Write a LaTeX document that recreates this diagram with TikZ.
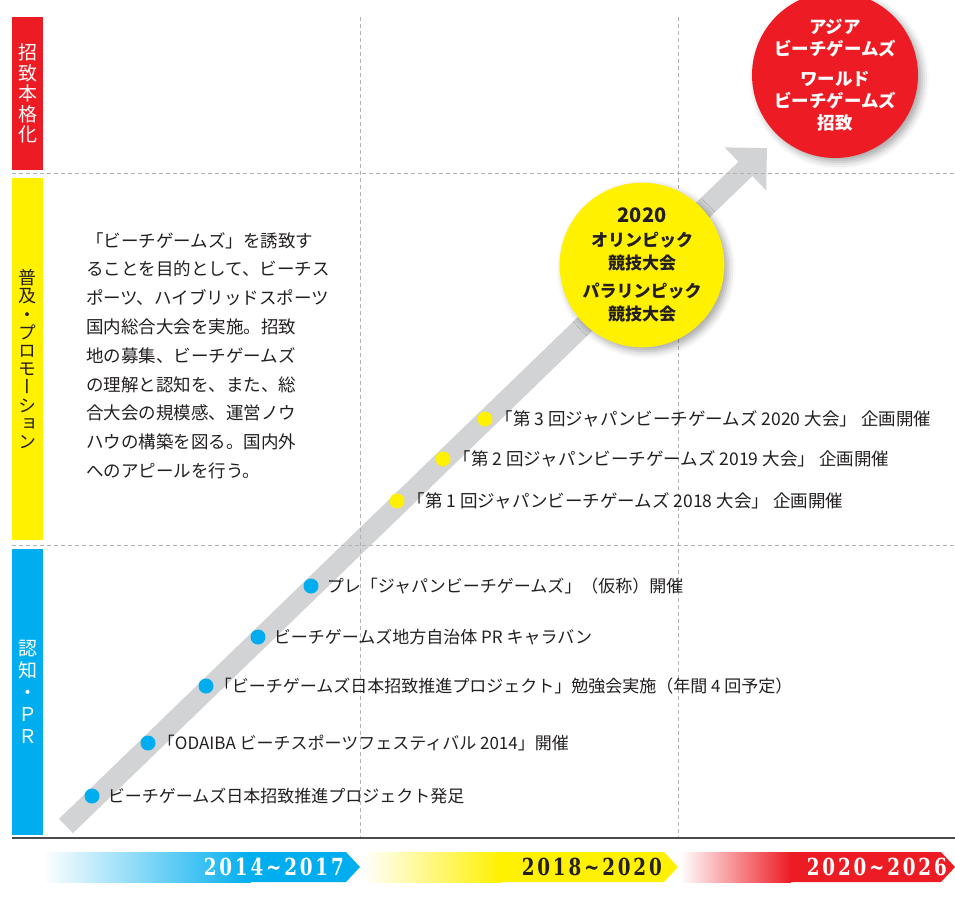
\documentclass[tikz,border=0pt]{standalone}
\usepackage{fontspec}
\setmainfont{Noto Sans CJK JP}
\newfontfamily\cjkv[RawFeature=+vert]{Noto Sans CJK JP}
\newfontfamily\yearfont[FakeStretch=0.78,LetterSpace=12]{DejaVu Serif}
\XeTeXlinebreaklocale "ja"
\XeTeXlinebreakskip=0pt plus 4pt
\usepackage{tikz}
\usetikzlibrary{calc,arrows.meta,positioning,shadows.blur}
\definecolor{jcyan}{HTML}{00AEEF}
\definecolor{jyellow}{HTML}{FFF100}
\definecolor{jred}{HTML}{ED1C24}
\definecolor{jgray}{HTML}{D1D3D4}
\definecolor{jink}{HTML}{231F20}
\newcommand\pline[1]{\hbox to 244pt{#1}}
\tikzstyle{phase bar}=[inner sep=0,minimum width=31,anchor=north west]
\tikzstyle{side label}=[inner sep=0,align=center]
\tikzstyle{grid line}=[draw=black!30,dash pattern=on 4pt off 3pt,line width=0.8]
\tikzstyle{goal circle}=[circle,inner sep=0,align=center,minimum size=166,blur shadow={shadow xshift=4pt,shadow yshift=-4pt,shadow blur radius=7pt,shadow opacity=35}]
\tikzstyle{cyan dot}=[circle,fill=jcyan,inner sep=0,minimum size=15]
\tikzstyle{yellow dot}=[circle,fill=jyellow,inner sep=0,minimum size=15]
\tikzstyle{item}=[inner sep=0,text=jink,font=\fontsize{17}{17}\selectfont]
\tikzstyle{year label}=[inner sep=0,anchor=east,font=\yearfont\bfseries\fontsize{23.5}{23.5}\selectfont]

\begin{document}
\begin{tikzpicture}[x=1pt,y=-1pt]
\useasboundingbox (0,0) rectangle (955,914);

% phase bars on the left
\node[phase bar,fill=jred,minimum height=153] (barA) at (12,17) {};
\node[phase bar,fill=jyellow,minimum height=362] (barB) at (12,178) {};
\node[phase bar,fill=jcyan,minimum height=286] (barC) at (12,549) {};
\node[side label,text=white,font=\cjkv\fontsize{19}{20.5}\selectfont] (labA) at (barA.center) {招\\致\\本\\格\\化};
\node[side label,text=jink,font=\cjkv\fontsize{18}{18.2}\selectfont] (labB) at (barB.center) {普\\及\\・\\プ\\ロ\\モ\\ー\\シ\\ョ\\ン};
\node[side label,text=white,font=\cjkv\fontsize{19}{22}\selectfont] (labC) at (barC.center) {認\\知\\・\\Ｐ\\Ｒ};

% the big arrow
\coordinate (tail) at (66,826);
\coordinate (head) at (767,148);
\draw[jgray,line width=20,-{Triangle[width=58pt,length=30pt]}] (tail) -- (head);

% grid
\draw[grid line] (12,173) -- (955,173);
\draw[grid line] (12,545) -- (955,545);
\draw[grid line] (360,17) -- (360,838);
\draw[grid line] (678,17) -- (678,838);
\draw[draw=black!70,line width=1.5] (12,838) -- (955,838);

% goals
\node[goal circle,fill=jred,text=white,font=\bfseries\fontsize{17.5}{22}\selectfont] (worldC) at (835,75)
  {アジア\\ビーチゲームズ\\[8pt]ワールド\\ビーチゲームズ\\招致};
\node[goal circle,fill=jyellow,text=jink,minimum size=162,font=\bfseries\fontsize{17}{23.5}\selectfont] (olympC) at (642,265)
  {{\fontsize{20}{23.5}\selectfont 2020}\\オリンピック\\競技大会\\[4pt]パラリンピック\\競技大会};

% description
\node[inner sep=0,anchor=north west,align=left,text=jink,font=\fontsize{17.5}{28.8}\selectfont] (desc) at (86,232)
  {\pline{「ビーチゲームズ」を誘致す}\\\pline{ることを目的として、ビーチス}\\\pline{ポーツ、ハイブリッドスポーツ}\\\pline{国内総合大会を実施。招致}\\\pline{地の募集、ビーチゲームズ}\\\pline{の理解と認知を、また、総}\\\pline{合大会の規模感、運営ノウ}\\\pline{ハウの構築を図る。国内外}\\へのアピールを行う。};

% steps 2014-2017
\node[cyan dot] (d1) at (92,796) {};
\node[cyan dot] (d2) at (148,743) {};
\node[cyan dot] (d3) at (206,686) {};
\node[cyan dot] (d4) at (258,637) {};
\node[cyan dot] (d5) at (311,586) {};
\node[item,right=8pt of d1] (e1) {ビーチゲームズ日本招致推進プロジェクト発足};
\node[item,right=2pt of d2] (e2) {「ODAIBA ビーチスポーツフェスティバル 2014」開催};
\node[item,right=1pt of d3] (e3) {「ビーチゲームズ日本招致推進プロジェクト」勉強会実施（年間 4 回予定）};
\node[item,right=8pt of d4] (e4) {ビーチゲームズ地方自治体 PR キャラバン};
\node[item,right=8pt of d5] (e5) {プレ「ジャパンビーチゲームズ」（仮称）開催};

% steps 2018-2020
\node[yellow dot] (d6) at (397,501) {};
\node[yellow dot] (d7) at (443,459) {};
\node[yellow dot] (d8) at (485,419) {};
\node[item,right=3pt of d6,font=\fontsize{17.5}{17.5}\selectfont] (e6) {「第 1 回ジャパンビーチゲームズ 2018 大会」 企画開催};
\node[item,right=3pt of d7,font=\fontsize{17.5}{17.5}\selectfont] (e7) {「第 2 回ジャパンビーチゲームズ 2019 大会」 企画開催};
\node[item,right=3pt of d8,font=\fontsize{17.5}{17.5}\selectfont] (e8) {「第 3 回ジャパンビーチゲームズ 2020 大会」 企画開催};

% period bands
\shade[left color=white,right color=jcyan] (43,852) rectangle (251,882);
\fill[jcyan] (250,852) -- (346,852) -- (360,867) -- (346,882) -- (250,882) -- cycle;
\shade[left color=white,right color=jyellow] (362,852) rectangle (501,882);
\fill[jyellow] (500,852) -- (664,852) -- (678,867) -- (664,882) -- (500,882) -- cycle;
\shade[left color=white,right color=jred] (680,852) rectangle (791,882);
\fill[jred] (790,852) -- (941,852) -- (955,867) -- (941,882) -- (790,882) -- cycle;
\node[year label,text=white] (yA) at (344,867) {2014\textasciitilde2017};
\node[year label,text=jink] (yB) at (662,867) {2018\textasciitilde2020};
\node[year label,text=white] (yC) at (947,867) {2020\textasciitilde2026};

\end{tikzpicture}
\end{document}
